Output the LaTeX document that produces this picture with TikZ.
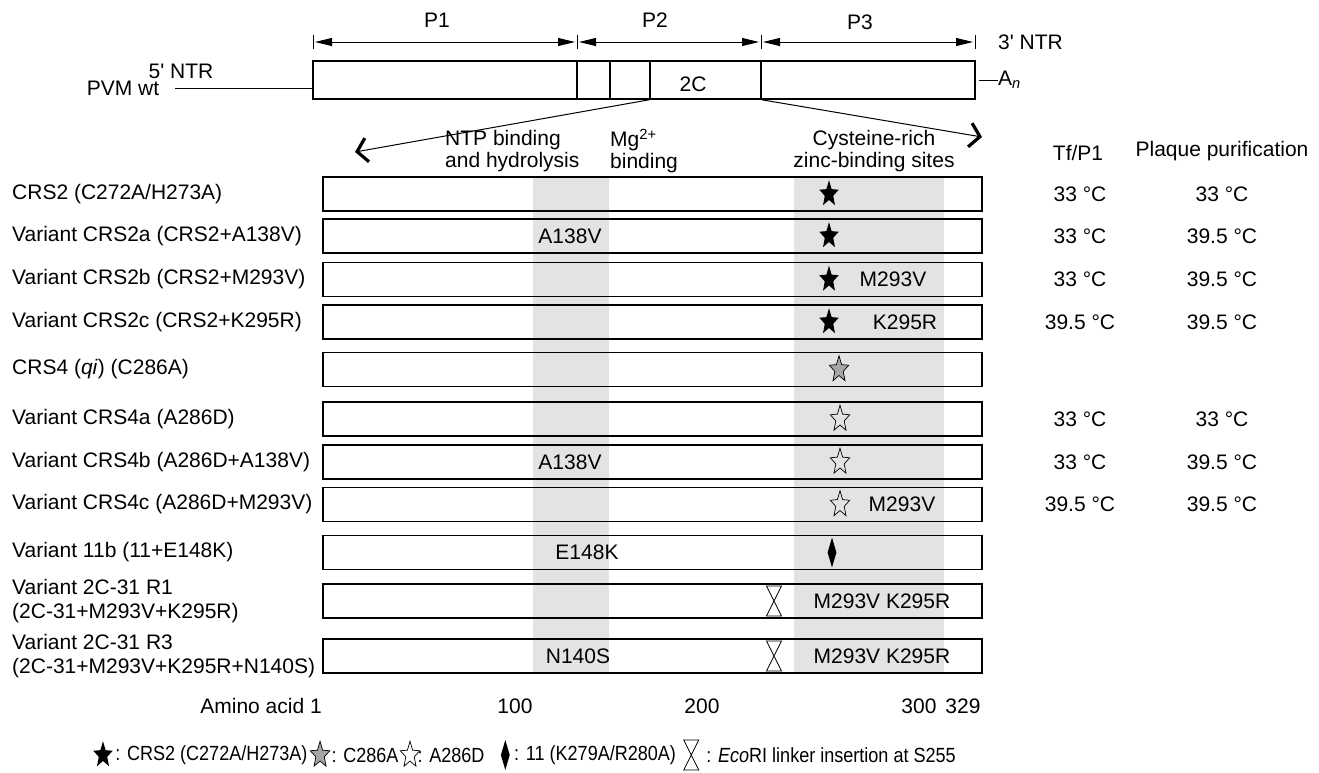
\documentclass[tikz,border=0pt]{standalone}
\usepackage{fontspec}
\setmainfont{Liberation Sans}
\newfontfamily\keyfont[FakeStretch=0.88]{Liberation Sans}
\usetikzlibrary{positioning,shapes.geometric,arrows.meta}

\definecolor{bandgrey}{RGB}{226,227,229}
\tikzset{
    hourglass/.pic={\draw[line width=0.8pt] (-7.5,-15) -- (7.5,-15) -- (-7.5,15) -- (7.5,15) -- cycle;}
}

\begin{document}
\begin{tikzpicture}[x=1pt, y=-1pt,
    every node/.style={font=\fontsize{21}{23.5}\selectfont, inner sep=0pt},
    lbl/.style={anchor=west, align=left},
    headtxt/.style={font=\fontsize{21}{22}\selectfont},
    keytxt/.style={font=\keyfont\fontsize{20.5}{22}\selectfont},
    rowbox/.style={draw, line width=1.4pt, minimum width=659pt, minimum height=34pt},
    starmark/.style={star, star points=5, star point ratio=2.3, minimum size=24pt, xscale=0.85, yscale=1.15},
    fullstar/.style={starmark, fill=black},
    greystar/.style={starmark, draw, fill=gray!70, line width=0.7pt},
    openstar/.style={starmark, draw, line width=0.7pt},
    dmd/.style={diamond, fill=black, minimum width=9pt, minimum height=30pt},
    parrow/.style={line width=1pt, {Triangle[length=17pt,width=8pt]}-{Triangle[length=17pt,width=8pt]}},
    zoomarrow/.style={line width=1pt, -{Straight Barb[length=10pt,width=24pt,line width=3.2pt]}}
    ]

    \useasboundingbox (0,0) rectangle (1319,772);

    % shaded domains
    \fill[bandgrey] (533,177) rectangle (609,673);
    \fill[bandgrey] (794,177) rectangle (944,673);

    % genome
    \node[draw, line width=1.3pt, minimum width=662pt, minimum height=38pt] (genome) at (644,80) {};
    \draw[line width=1.1pt] (577,61) -- (577,99);
    \draw[line width=1.1pt] (610,61) -- (610,99);
    \draw[line width=1.1pt] (650,61) -- (650,99);
    \draw[line width=1.1pt] (761,61) -- (761,99);
    \node (twoc) at (693,84) {2C};

    \node (pvm) at (123,88) {PVM wt};
    \node (ntr5) at (181,71) {5\textquotesingle{} NTR};
    \draw[line width=1pt] ([xshift=16pt]pvm.east) -- (pvm -| genome.west);
    \node[anchor=west] (polya) at (998,80) {A\textsubscript{\itshape n}};
    \draw[line width=1pt] ([xshift=3pt]genome.east) -- (polya.west);

    % polyproteins
    \coordinate (t0) at (313,42);
    \coordinate (t1) at (577,42);
    \coordinate (t2) at (761,42);
    \coordinate (t3) at (975,42);
    \draw[line width=1pt] (313,35) -- (313,49);
    \draw[line width=1pt] (577,35) -- (577,49);
    \draw[line width=1pt] (761,35) -- (761,49);
    \draw[line width=1pt] (975,35) -- (975,49);
    \draw[parrow] ([xshift=2pt]t0) -- ([xshift=-2pt]t1);
    \draw[parrow] ([xshift=2pt]t1) -- ([xshift=-2pt]t2);
    \draw[parrow] ([xshift=2pt]t2) -- ([xshift=-2pt]t3);
    \node (p1) at (437,20) {P1};
    \node (p2) at (655,20) {P2};
    \node (p3) at (860,22) {P3};
    \node[anchor=west] (ntr3) at (998,42) {3\textquotesingle{} NTR};

    % zoom on 2C
    \coordinate (zl) at (355,152);
    \coordinate (zr) at (982,137);
    \draw[zoomarrow] (genome.south -| 650,0) -- (zl);
    \draw[zoomarrow] (genome.south -| 761,0) -- (zr);

    \node[lbl, headtxt] (ntp) at (445,151) {NTP binding\\and hydrolysis};
    \node[lbl, headtxt] (mg) at (610,151) {Mg\textsuperscript{2+}\\binding};
    \node[headtxt, align=center] (cys) at (874,151) {Cysteine-rich\\zinc-binding sites};
    \node (tf) at (1078,153) {Tf/P1};
    \node (plaque) at (1222,151) {Plaque purification};

    % mutants
    \node[rowbox] (crs2) at (652.5,194) {};
    \node[lbl] (crs2lbl) at (12,194) {CRS2 (C272A/H273A)};
    \node[fullstar] (crs2mk) at (829,194) {};
    \node (crs2tf) at (1080,194) {33 °C};
    \node (crs2pp) at (1222,194) {33 °C};

    \node[rowbox] (crs2a) at (652.5,236) {};
    \node[lbl] (crs2albl) at (12,236) {Variant CRS2a (CRS2+A138V)};
    \node (crs2amut) at (570,236) {A138V};
    \node[fullstar] (crs2amk) at (829,236) {};
    \node (crs2atf) at (1080,236) {33 °C};
    \node (crs2app) at (1222,236) {39.5 °C};

    \node[rowbox] (crs2b) at (652.5,279.5) {};
    \node[lbl] (crs2blbl) at (12,279.5) {Variant CRS2b (CRS2+M293V)};
    \node[fullstar] (crs2bmk) at (829,279.5) {};
    \node (crs2bmut) at (893,279.5) {M293V};
    \node (crs2btf) at (1080,279.5) {33 °C};
    \node (crs2bpp) at (1222,279.5) {39.5 °C};

    \node[rowbox] (crs2c) at (652.5,322) {};
    \node[lbl] (crs2clbl) at (12,322) {Variant CRS2c (CRS2+K295R)};
    \node[fullstar] (crs2cmk) at (829,322) {};
    \node (crs2cmut) at (905,322) {K295R};
    \node (crs2ctf) at (1080,322) {39.5 °C};
    \node (crs2cpp) at (1222,322) {39.5 °C};

    \node[rowbox] (crs4) at (652.5,369.5) {};
    \node[lbl] (crs4lbl) at (12,369.5) {CRS4 (\textit{qi}) (C286A)};
    \node[greystar] (crs4mk) at (839,369.5) {};

    \node[rowbox] (crs4a) at (652.5,419) {};
    \node[lbl] (crs4albl) at (12,419) {Variant CRS4a (A286D)};
    \node[openstar] (crs4amk) at (840,419) {};
    \node (crs4atf) at (1080,419) {33 °C};
    \node (crs4app) at (1222,419) {33 °C};

    \node[rowbox] (crs4b) at (652.5,462) {};
    \node[lbl] (crs4blbl) at (12,462) {Variant CRS4b (A286D+A138V)};
    \node (crs4bmut) at (570,462) {A138V};
    \node[openstar] (crs4bmk) at (840,462) {};
    \node (crs4btf) at (1080,462) {33 °C};
    \node (crs4bpp) at (1222,462) {39.5 °C};

    \node[rowbox] (crs4c) at (652.5,504.5) {};
    \node[lbl] (crs4clbl) at (12,504.5) {Variant CRS4c (A286D+M293V)};
    \node[openstar] (crs4cmk) at (840,504.5) {};
    \node (crs4cmut) at (902,504.5) {M293V};
    \node (crs4ctf) at (1080,504.5) {39.5 °C};
    \node (crs4cpp) at (1222,504.5) {39.5 °C};

    \node[rowbox] (v11b) at (652.5,552.5) {};
    \node[lbl] (v11blbl) at (12,552.5) {Variant 11b (11+E148K)};
    \node (v11bmut) at (587,552.5) {E148K};
    \node[dmd] (v11bmk) at (832,552.5) {};

    \node[rowbox] (r1) at (652.5,601) {};
    \node[lbl] (r1lbl) at (12,601) {Variant 2C-31 R1\\(2C-31+M293V+K295R)};
    \pic at (774,601) {hourglass};
    \node (r1mut) at (882,601) {M293V K295R};

    \node[rowbox] (r3) at (652.5,656) {};
    \node[lbl] (r3lbl) at (12,656) {Variant 2C-31 R3\\(2C-31+M293V+K295R+N140S)};
    \node (r3mut) at (578,656) {N140S};
    \pic at (774,656) {hourglass};
    \node (r3mut2) at (882,656) {M293V K295R};

    % amino acid scale
    \node[anchor=east] (aa1) at (322,706) {Amino acid 1};
    \node (aa100) at (515,706) {100};
    \node (aa200) at (702,706) {200};
    \node (aa300) at (919,706) {300};
    \node (aa329) at (963,706) {329};

    % key
    \node[fullstar] (key1) at (103,755) {};
    \node[keytxt, right=6pt of key1] (key1t) {: CRS2 (C272A/H273A)};
    \node[greystar, right=6pt of key1t] (key2) {};
    \node[keytxt, right=5pt of key2] (key2t) {: C286A};
    \node[openstar, right=5pt of key2t] (key3) {};
    \node[keytxt, right=1pt of key3] (key3t) {: A286D};
    \node[dmd, right=16pt of key3t] (key4) {};
    \node[keytxt, right=4pt of key4] (key4t) {: 11 (K279A/R280A)};
    \coordinate[right=15pt of key4t] (key5);
    \pic at (key5) {hourglass};
    \node[keytxt, right=15pt of key5] (key5t) {: \textit{Eco}RI linker insertion at S255};

\end{tikzpicture}
\end{document}
